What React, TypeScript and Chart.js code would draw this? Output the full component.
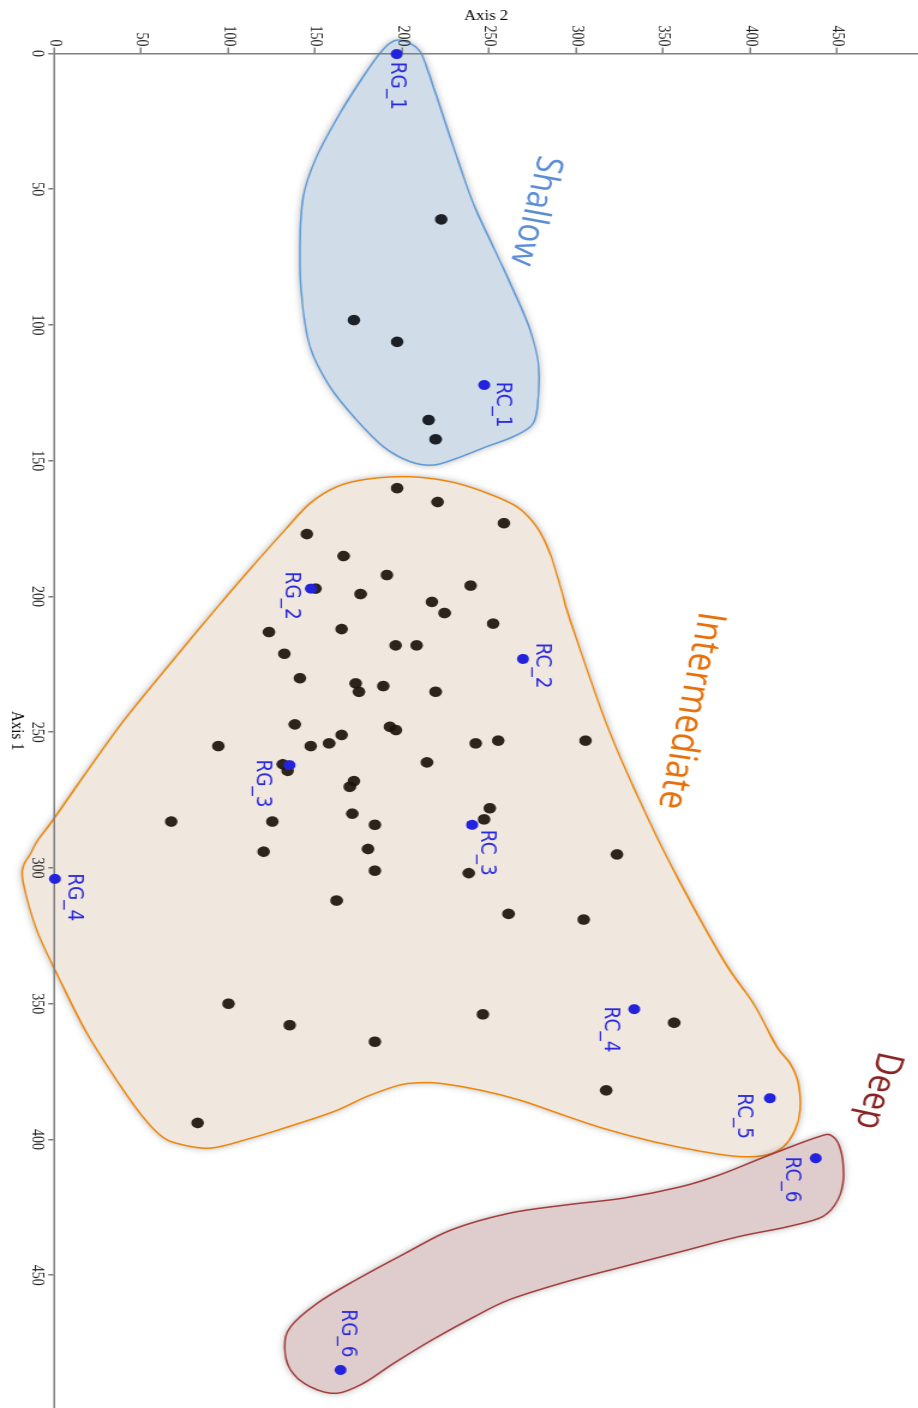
import React, { useEffect, useRef } from 'react';
import { Chart, registerables } from 'chart.js';

Chart.register(...registerables);

// ---------- axes ----------
const axis1Label = 'Axis 1';
const axis2Label = 'Axis 2';
const axis1Ticks = [0, 50, 100, 150, 200, 250, 300, 350, 400, 450];
const axis2Ticks = [0, 50, 100, 150, 200, 250, 300, 350, 400, 450];
const axis1Max = 498.9;
const axis2Max = 496.4;

// ---------- samples (black points) ----------
const shallowAxis1 = [61.1, 98.2, 106.2, 135.0, 142.1];
const shallowAxis2 = [222.4, 172.2, 197.1, 215.2, 219.2];

const intermediateAxis1 = [
  160.1, 165.2, 173.0, 177.0, 185.1, 192.1, 196.0, 197.1, 199.1, 202.0, 206.1, 210.0, 213.1, 212.0, 218.0,
  218.0, 221.1, 230.1, 232.0, 235.1, 233.0, 235.1, 247.1, 248.0, 249.2, 255.1, 255.1, 254.1, 251.0, 254.1,
  253.1, 253.1, 261.1, 261.8, 264.2, 268.0, 270.1, 278.0, 282.1, 282.9, 282.9, 280.0, 284.1, 294.0, 293.0,
  295.0, 301.0, 301.9, 312.0, 316.9, 319.0, 350.0, 357.9, 364.0, 393.9, 353.9, 357.0, 381.9,
];
const intermediateAxis2 = [
  197.1, 220.3, 258.5, 145.2, 166.3, 191.2, 239.3, 150.2, 176.1, 217.1, 224.4, 252.3, 123.4, 165.2, 196.2,
  208.3, 132.2, 141.2, 173.2, 175.1, 189.1, 219.2, 138.2, 192.9, 196.4, 94.3, 147.4, 158.0, 165.2, 242.2,
  255.2, 305.4, 214.2, 131.3, 134.1, 172.2, 169.9, 250.4, 247.1, 67.2, 125.3, 171.3, 184.3, 120.3, 180.3,
  323.4, 184.3, 238.2, 162.3, 261.1, 304.3, 100.2, 135.3, 184.3, 82.4, 246.4, 356.3, 317.2,
];

// ---------- named sites (blue points) ----------
const siteNames = ['RG_1', 'RC_1', 'RG_2', 'RC_2', 'RG_3', 'RC_3', 'RG_4', 'RC_4', 'RC_5', 'RC_6', 'RG_6'];
const siteAxis1 = [0.2, 122.1, 197.1, 223.0, 262.1, 284.1, 304.0, 352.0, 384.8, 406.9, 484.9];
const siteAxis2 = [196.8, 247.1, 147.4, 269.4, 135.1, 240.1, 0.4, 333.3, 411.3, 437.6, 164.5];

// ---------- group hulls ----------
const groupNames = ['Shallow', 'Intermediate', 'Deep'];
const groupNameAxis1 = [58.0, 242.0, 382.0];
const groupNameAxis2 = [276.3, 365.5, 473.5];

const shallowHullAxis1 = [-5.0, -3.8, -0.7, 4.9, 19.6, 38.0, 55.2, 71.2, 87.1, 101.8, 114.1, 126.4, 136.2, 141.1, 144.8, 149.1, 151.6, 150.3, 144.8, 135.0, 122.7, 108.0, 89.6, 71.2, 52.7, 38.0, 22.0, 8.5, -0.1, -3.8];
const shallowHullAxis2 = [197.7, 204.4, 210.2, 214.0, 221.7, 231.3, 240.8, 252.3, 263.8, 273.4, 278.2, 278.2, 275.3, 263.8, 248.5, 231.3, 217.8, 204.4, 189.1, 173.8, 158.4, 147.0, 142.2, 141.2, 143.1, 150.8, 164.2, 177.6, 187.2, 192.9];

const intermediateHullAxis1 = [156.8, 155.9, 157.7, 161.4, 166.9, 174.3, 184.1, 200.1, 208.6, 245.5, 270.1, 298.3, 333.9, 349.8, 365.8, 371.9, 379.3, 389.1, 396.5, 402.7, 405.7, 406.3, 404.5, 400.8, 395.9, 391.0, 385.5, 381.8, 379.3, 379.1, 379.9, 384.2, 389.8, 395.9, 399.6, 403.2, 401.4, 398.3, 390.3, 374.4, 358.5, 338.8, 322.8, 305.6, 299.5, 294.5, 289.7, 282.3, 263.9, 246.6, 232.9, 218.6, 203.9, 190.2, 175.5, 165.7, 159.6];
const intermediateHullAxis2 = [179.5, 204.4, 227.4, 246.6, 265.7, 277.2, 284.9, 292.5, 296.4, 316.5, 332.8, 353.9, 384.5, 401.7, 415.2, 422.8, 427.6, 428.6, 425.7, 419.0, 409.4, 394.1, 373.0, 344.3, 315.5, 292.5, 267.6, 244.7, 221.7, 210.2, 198.7, 179.5, 160.3, 131.6, 112.5, 89.5, 70.3, 60.7, 49.3, 32.0, 16.7, 1.4, -10.1, -17.8, -17.8, -13.4, -9.4, -0.7, 19.4, 38.9, 56.1, 74.5, 93.8, 112.2, 132.6, 147.0, 162.3];

const deepHullAxis1 = [398.3, 402.7, 413.7, 422.3, 428.4, 432.1, 435.8, 441.3, 446.8, 452.4, 459.1, 465.3, 473.8, 482.4, 489.8, 493.5, 491.0, 484.9, 476.3, 469.0, 460.3, 451.8, 441.9, 433.3, 427.2, 424.1, 421.6, 417.4, 413.1, 407.5, 402.0, 399.0];
const deepHullAxis2 = [445.9, 451.4, 453.6, 450.3, 441.6, 421.7, 393.2, 360.2, 327.2, 294.2, 261.2, 241.4, 217.2, 195.2, 177.6, 162.2, 146.8, 135.8, 132.5, 135.8, 151.2, 173.2, 201.8, 228.2, 261.2, 294.2, 327.2, 360.2, 382.1, 404.1, 426.1, 439.3];

// ---------- styles (kept apart from the data) ----------
const siteLabelOffsets = [
  [7.7, 4.2], [-3.3, -10.3], [-17, 21.4], [-16.3, -11.4], [-5.7, 27.2], [5, -8.1],
  [-5.7, -11.1], [-2.6, 24.4], [-5, 26.4], [-1.6, 24.6], [-60.7, -1.4],
];
const groupNameAngles = [12.3, 9.9, 14.5];
const groupNameSizes = [31, 33, 32];
const groupTextColors = ['#5a8dd6', '#e8700a', '#8b2525'];
const groupFills = ['#d0dce8', '#f0e7df', '#dfcdcd'];
const groupStrokes = ['#5d9ad8', '#ef8608', '#a43c3c'];
const hulls = [
  { a1: shallowHullAxis1, a2: shallowHullAxis2 },
  { a1: intermediateHullAxis1, a2: intermediateHullAxis2 },
  { a1: deepHullAxis1, a2: deepHullAxis2 },
];

const CANVAS_W = 1408;
const CANVAS_H = 765;
const STRETCH = 1.2;

function traceClosedSpline(ctx: CanvasRenderingContext2D, pts: number[][]) {
  const n = pts.length;
  const t = 1 / 6;
  ctx.moveTo(pts[0][0], pts[0][1]);
  for (let i = 0; i < n; i++) {
    const p0 = pts[(i - 1 + n) % n];
    const p1 = pts[i];
    const p2 = pts[(i + 1) % n];
    const p3 = pts[(i + 2) % n];
    ctx.bezierCurveTo(
      p1[0] + (p2[0] - p0[0]) * t, p1[1] + (p2[1] - p0[1]) * t,
      p2[0] - (p3[0] - p1[0]) * t, p2[1] - (p3[1] - p1[1]) * t,
      p2[0], p2[1]
    );
  }
  ctx.closePath();
}

export default function App() {
  const ref = useRef<HTMLCanvasElement>(null);

  useEffect(() => {
    const canvas = ref.current;
    if (!canvas) return;

    const groupPlugin = {
      id: 'groupHulls',
      beforeDraw(chart: any) {
        const { ctx } = chart;
        const xs = chart.scales.x;
        const ys = chart.scales.y;
        hulls.forEach((h, gi) => {
          const pts = h.a1.map((v, i) => [xs.getPixelForValue(v), ys.getPixelForValue(h.a2[i])]);
          ctx.save();
          ctx.beginPath();
          traceClosedSpline(ctx, pts);
          ctx.shadowColor = 'rgba(0,0,0,0.35)';
          ctx.shadowBlur = 7;
          ctx.fillStyle = groupFills[gi];
          ctx.fill();
          ctx.shadowColor = 'rgba(0,0,0,0)';
          ctx.shadowBlur = 0;
          ctx.lineWidth = 1.5;
          ctx.strokeStyle = groupStrokes[gi];
          ctx.stroke();
          ctx.restore();
        });
      },
      afterDatasetsDraw(chart: any) {
        const { ctx } = chart;
        const xs = chart.scales.x;
        const ys = chart.scales.y;
        ctx.save();
        ctx.font = '18.5px "DejaVu Sans", sans-serif';
        ctx.fillStyle = '#2a2ae0';
        ctx.textAlign = 'left';
        ctx.textBaseline = 'alphabetic';
        siteNames.forEach((name, i) => {
          const px = xs.getPixelForValue(siteAxis1[i]);
          const py = ys.getPixelForValue(siteAxis2[i]);
          ctx.fillText(name, px + siteLabelOffsets[i][0], py + siteLabelOffsets[i][1]);
        });
        groupNames.forEach((name, i) => {
          const px = xs.getPixelForValue(groupNameAxis1[i]);
          const py = ys.getPixelForValue(groupNameAxis2[i]);
          ctx.save();
          ctx.translate(px, py);
          ctx.rotate((groupNameAngles[i] * Math.PI) / 180);
          ctx.font = `${groupNameSizes[i]}px "Open Sans", sans-serif`;
          ctx.fillStyle = groupTextColors[i];
          ctx.textAlign = 'center';
          ctx.textBaseline = 'middle';
          ctx.fillText(name, 0, 0);
          ctx.restore();
        });
        ctx.restore();
      },
    };

    const toPoints = (a: number[], b: number[]) => a.map((v, i) => ({ x: v, y: b[i] }));

    const serif = '"Liberation Serif", "Times New Roman", serif';
    const zeroPadding = (s: any) => {
      s.paddingLeft = 0;
      s.paddingRight = 0;
      s.paddingTop = 0;
      s.paddingBottom = 0;
    };
    const chart = new Chart(canvas, {
      type: 'scatter',
      data: {
        datasets: [
          {
            label: 'Sites',
            data: toPoints(siteAxis1, siteAxis2),
            backgroundColor: '#2323de',
            borderColor: '#2323de',
            borderWidth: 0,
            pointRadius: 5,
            clip: false,
          },
          {
            label: 'Shallow samples',
            data: toPoints(shallowAxis1, shallowAxis2),
            backgroundColor: 'rgba(12,16,22,0.92)',
            borderWidth: 0,
            pointRadius: 5.3,
            clip: false,
          },
          {
            label: 'Intermediate samples',
            data: toPoints(intermediateAxis1, intermediateAxis2),
            backgroundColor: 'rgba(30,20,10,0.92)',
            borderWidth: 0,
            pointRadius: 5.3,
            clip: false,
          },
        ],
      } as any,
      plugins: [groupPlugin],
      options: {
        responsive: false,
        animation: false,
        devicePixelRatio: 1,
        layout: { padding: 0, autoPadding: false },
        events: [],
        plugins: { legend: { display: false }, tooltip: { enabled: false } },
        scales: {
          x: {
            type: 'linear',
            position: 'bottom',
            min: 0,
            max: axis1Max,
            afterBuildTicks(s: any) {
              s.ticks = axis1Ticks.map((v) => ({ value: v }));
            },
            ticks: {
              autoSkip: false,
              maxRotation: 0,
              minRotation: 0,
              padding: 1,
              color: '#222',
              font: { family: serif, size: 14 },
            },
            grid: { drawOnChartArea: false, drawTicks: true, tickLength: 5, color: '#7f7f7f', lineWidth: 1.5 },
            border: { display: true, color: '#7f7f7f', width: 1.5 },
            title: {
              display: true,
              text: axis1Label,
              color: '#000',
              font: { family: serif, size: 15 },
              padding: { top: 0, bottom: 5 },
            },
            afterFit(s: any) {
              s.height = CANVAS_H - 863.7 / STRETCH;
              zeroPadding(s);
            },
          },
          y: {
            type: 'linear',
            position: 'left',
            min: 0,
            max: axis2Max,
            afterBuildTicks(s: any) {
              s.ticks = axis2Ticks.map((v) => ({ value: v }));
            },
            ticks: {
              autoSkip: false,
              padding: 1,
              color: '#222',
              font: { family: serif, size: 14 },
            },
            grid: { drawOnChartArea: false, drawTicks: true, tickLength: 6, color: '#7f7f7f', lineWidth: 1.5 },
            border: { display: true, color: '#7f7f7f', width: 1.5 },
            title: {
              display: true,
              text: axis2Label,
              color: '#000',
              font: { family: serif, size: 14 },
              padding: { top: 7.6, bottom: 0 },
            },
            afterFit(s: any) {
              s.width = 53.5;
              zeroPadding(s);
            },
          },
        },
      } as any,
    });

    return () => chart.destroy();
  }, []);

  return (
    <div
      style={{
        position: 'absolute',
        left: 0,
        top: 0,
        width: 918,
        height: 1408,
        overflow: 'hidden',
        background: '#fff',
      }}
    >
      <canvas
        ref={ref}
        width={CANVAS_W}
        height={CANVAS_H}
        style={{
          position: 'absolute',
          left: 0,
          top: 0,
          width: CANVAS_W,
          height: CANVAS_H,
          transformOrigin: '0 0',
          transform: `translateX(918px) rotate(90deg) scaleY(${STRETCH})`,
        }}
      />
    </div>
  );
}
